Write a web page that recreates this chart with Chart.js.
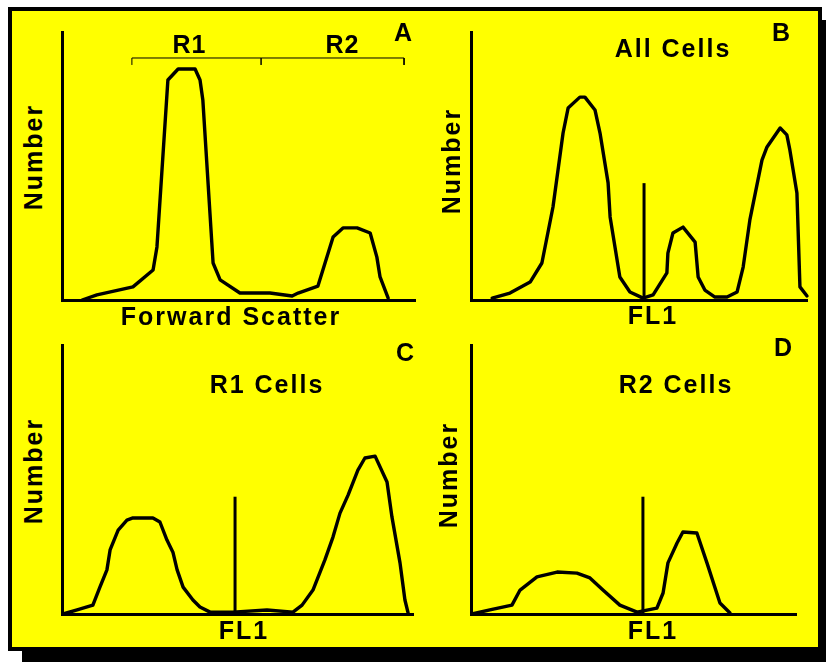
<!DOCTYPE html>
<html>
<head>
<meta charset="utf-8">
<script src="https://cdn.jsdelivr.net/npm/chart.js@4/dist/chart.umd.min.js"></script>
<style>
  body { margin: 0; background: #fff; width: 826px; height: 662px; position: relative; overflow: hidden; }
  #shadow { position: absolute; left: 22px; top: 20px; width: 804px; height: 642px; background: #000; }
  #box { position: absolute; left: 8px; top: 7px; width: 806px; height: 636px; background: #ffff00; border: 4px solid #000; }
  canvas { position: absolute; }
  .t { position: absolute; font: bold 25px "Liberation Sans", Arial, sans-serif; letter-spacing: 2px; padding-left: 2px;
       line-height: 1; color: #000; white-space: nowrap; transform: translate(-50%, -50%); }
  .v { transform: translate(-50%, -50%) rotate(-90deg); }
  .r { letter-spacing: 1px; padding-left: 1px; }
</style>
</head>
<body>
<div id="shadow"></div>
<div id="box"></div>

<canvas id="chartA" width="373" height="288" style="left:52px;top:22px"></canvas>
<canvas id="chartB" width="356" height="288" style="left:461px;top:22px"></canvas>
<canvas id="chartC" width="371" height="289" style="left:52px;top:335px"></canvas>
<canvas id="chartD" width="345" height="289" style="left:461px;top:335px"></canvas>

<div class="t" style="left:403px;top:32px">A</div>
<div class="t r" style="left:189px;top:44px">R1</div>
<div class="t r" style="left:342px;top:44px">R2</div>
<div class="t v" style="left:33px;top:158px">Number</div>
<div class="t" style="left:230px;top:316px">Forward Scatter</div>

<div class="t" style="left:781px;top:32px">B</div>
<div class="t" style="left:672px;top:48px">All Cells</div>
<div class="t v" style="left:451px;top:162px">Number</div>
<div class="t" style="left:652px;top:315px">FL1</div>

<div class="t" style="left:405px;top:352px">C</div>
<div class="t" style="left:266px;top:384px">R1 Cells</div>
<div class="t v" style="left:33px;top:472px">Number</div>
<div class="t" style="left:243px;top:630px">FL1</div>

<div class="t" style="left:783px;top:347px">D</div>
<div class="t" style="left:675px;top:384px">R2 Cells</div>
<div class="t v" style="left:448px;top:476px">Number</div>
<div class="t" style="left:652px;top:630px">FL1</div>

<script>
// A: forward scatter histogram (channel 0-100, relative count 0-100)
var fscX = [5.7, 9.9, 20.1, 25.8, 26.9, 30.0, 32.9, 37.7, 39.1, 39.9, 42.8, 44.8, 50.4, 58.9, 65.2, 66.9, 72.5, 76.8, 79.6, 83.6, 87.3, 89.2, 90.1, 92.4];
var fscY = [0, 1.9, 4.9, 11.2, 19.8, 82.1, 86.2, 86.2, 82.1, 74.6, 13.8, 7.5, 2.6, 2.6, 1.5, 2.6, 5.2, 23.5, 26.9, 26.9, 25.0, 16.0, 8.6, 0.7];
// gate regions on forward scatter
var r1Start = 19.8, r1End = 56.4, r2End = 96.9;
var bracketY = 90.3, bracketTickY = 87.7;

// B: FL1, all cells
var allX = [6.3, 11.6, 17.6, 21.1, 24.4, 27.4, 28.9, 32.4, 33.9, 36.9, 38.4, 40.8, 41.4, 44.3, 47.3, 51.2, 54.2, 58.3, 58.6, 60.1, 63.1, 66.7, 67.6, 69.6, 72.6, 76.2, 79.2, 81.0, 83.0, 86.6, 88.1, 92.0, 94.0, 94.9, 97.0, 97.9, 100];
var allY = [0.7, 2.6, 6.7, 13.8, 34.7, 62.3, 71.6, 75.7, 75.7, 70.9, 62.3, 43.7, 31.0, 8.6, 3.0, 0.7, 1.9, 10.1, 17.5, 25.0, 27.2, 21.6, 8.6, 3.7, 1.1, 1.1, 3.0, 12.3, 29.9, 52.2, 57.1, 64.2, 61.6, 56.0, 39.9, 4.9, 1.5];

// C: FL1, R1 cells
var r1X = [0.3, 4.3, 8.8, 10.8, 12.8, 13.7, 16.0, 18.5, 20.2, 25.9, 27.9, 29.9, 31.6, 32.8, 34.5, 37.3, 39.3, 42.2, 48.7, 58.4, 65.8, 68.4, 71.5, 74.9, 77.2, 79.2, 81.5, 84.3, 86.3, 89.2, 92.6, 94.0, 96.3, 97.7, 98.6];
var r1Y = [0, 1.5, 3.3, 10.0, 16.4, 23.8, 31.2, 34.9, 35.7, 35.7, 34.2, 27.5, 23.0, 16.4, 10.0, 5.2, 2.6, 0.7, 0.7, 1.5, 0.7, 3.3, 8.9, 20.1, 28.6, 37.5, 44.2, 53.5, 58.0, 58.7, 49.1, 36.1, 19.0, 5.2, 0.4];

// D: FL1, R2 cells
var r2X = [0.3, 5.8, 12.6, 15.1, 20.3, 26.5, 32.6, 36.6, 40.6, 45.8, 51.1, 57.2, 59.1, 60.6, 63.4, 65.2, 69.5, 72.6, 76.6, 79.7];
var r2Y = [0, 1.5, 3.3, 8.9, 13.8, 15.6, 15.2, 13.4, 8.9, 3.3, 0.7, 2.2, 7.8, 19.0, 26.4, 30.5, 30.1, 19.0, 4.1, 0.4];

// FL1 gate markers
var gateB = 51.5, gateC = 49.3, gateD = 52.9;
var gateHeight = 43.6;

function pts(xs, ys) {
  return xs.map(function(x, i) { return {x: x, y: ys[i]}; });
}

function curve(xs, ys) {
  return { data: pts(xs, ys), borderColor: '#000', borderWidth: 3.4, fill: false, clip: false };
}

function gate(x) {
  return { data: [{x: x, y: 0}, {x: x, y: gateHeight}], borderColor: '#000', borderWidth: 3, borderCapStyle: 'butt', clip: false };
}

function axisOpts() {
  return {
    type: 'linear', min: 0, max: 100,
    ticks: { display: false },
    grid: { display: false, drawTicks: false },
    border: { display: true, color: '#000', width: 3 }
  };
}

function makeChart(id, datasets) {
  return new Chart(document.getElementById(id), {
    type: 'line',
    data: { datasets: datasets },
    options: {
      responsive: false,
      animation: false,
      events: [],
      layout: { padding: 10 },
      plugins: { legend: { display: false }, tooltip: { enabled: false } },
      scales: { x: axisOpts(), y: axisOpts() },
      elements: {
        point: { radius: 0 },
        line: { tension: 0, borderJoinStyle: 'round', borderCapStyle: 'round' }
      }
    }
  });
}

var bracket = {
  data: [
    {x: r1Start, y: bracketTickY}, {x: r1Start, y: bracketY}, {x: r1End, y: bracketY},
    {x: r1End, y: bracketTickY}, {x: r1End, y: bracketY}, {x: r2End, y: bracketY}, {x: r2End, y: bracketTickY}
  ],
  borderColor: '#000', borderWidth: 1, borderJoinStyle: 'miter', borderCapStyle: 'butt', clip: false
};

makeChart('chartA', [curve(fscX, fscY), bracket]);
makeChart('chartB', [curve(allX, allY), gate(gateB)]);
makeChart('chartC', [curve(r1X, r1Y), gate(gateC)]);
makeChart('chartD', [curve(r2X, r2Y), gate(gateD)]);
</script>
</body>
</html>
